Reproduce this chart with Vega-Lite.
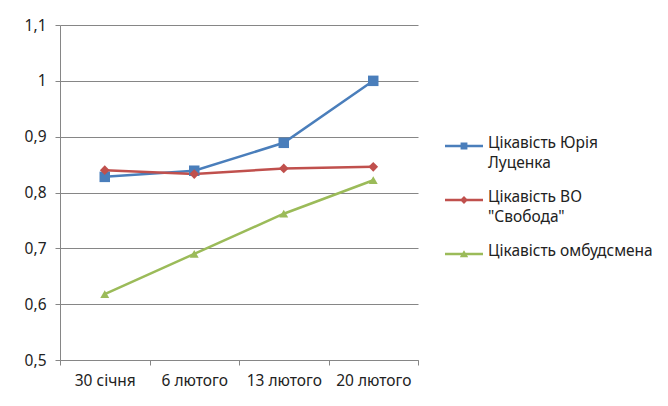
{
  "$schema": "https://vega.github.io/schema/vega-lite/v6.json",
  "width": 358,
  "height": 335,
  "autosize": "none",
  "padding": {"left": 60, "top": 25, "right": 250, "bottom": 46},
  "background": "white",
  "config": {
    "view": {"stroke": null},
    "font": "Noto Sans",
    "axis": {"labelFont": "Noto Sans", "labelFontSize": 15.5, "labelColor": "#222", "title": null}
  },
  "data": {
    "values": [
      {"date": "30 січня", "series": "Цікавість Юрія Луценка", "value": 0.828},
      {"date": "6 лютого", "series": "Цікавість Юрія Луценка", "value": 0.839},
      {"date": "13 лютого", "series": "Цікавість Юрія Луценка", "value": 0.889},
      {"date": "20 лютого", "series": "Цікавість Юрія Луценка", "value": 1.0},
      {"date": "30 січня", "series": "Цікавість ВО \"Свобода\"", "value": 0.84},
      {"date": "6 лютого", "series": "Цікавість ВО \"Свобода\"", "value": 0.833},
      {"date": "13 лютого", "series": "Цікавість ВО \"Свобода\"", "value": 0.843},
      {"date": "20 лютого", "series": "Цікавість ВО \"Свобода\"", "value": 0.846},
      {"date": "30 січня", "series": "Цікавість омбудсмена", "value": 0.618},
      {"date": "6 лютого", "series": "Цікавість омбудсмена", "value": 0.69},
      {"date": "13 лютого", "series": "Цікавість омбудсмена", "value": 0.762},
      {"date": "20 лютого", "series": "Цікавість омбудсмена", "value": 0.822}
    ]
  },
  "encoding": {
    "x": {
      "field": "date",
      "type": "nominal",
      "sort": ["30 січня", "6 лютого", "13 лютого", "20 лютого"],
      "bandPosition": 0.5,
      "scale": {"type": "band", "paddingInner": 0, "paddingOuter": 0},
      "axis": {
        "labelAngle": 0,
        "tickBand": "extent",
        "domainColor": "#868686",
        "tickColor": "#868686",
        "tickSize": 5,
        "labelPadding": 8,
        "grid": false
      }
    },
    "y": {
      "field": "value",
      "type": "quantitative",
      "scale": {"domain": [0.5, 1.1], "nice": false, "zero": false},
      "axis": {
        "values": [0.5, 0.6, 0.7, 0.8, 0.9, 1.0, 1.1],
        "labelExpr": "replace(format(datum.value, '.2~f'), '.', ',')",
        "grid": true,
        "gridColor": "#868686",
        "domainColor": "#868686",
        "tickColor": "#868686",
        "tickSize": 5,
        "labelPadding": 9
      }
    }
  },
  "resolve": {"scale": {"color": "independent"}, "legend": {"color": "independent"}},
  "layer": [
    {
      "mark": {"type": "line", "strokeWidth": 2.5},
      "encoding": {
        "color": {
          "field": "series",
          "type": "nominal",
          "sort": ["Цікавість Юрія Луценка", "Цікавість ВО \"Свобода\"", "Цікавість омбудсмена"],
          "scale": {
            "domain": ["Цікавість Юрія Луценка", "Цікавість ВО \"Свобода\"", "Цікавість омбудсмена"],
            "range": ["#4A7EBB", "#C0504D", "#9BBB59"]
          },
          "legend": {
            "title": null,
            "orient": "none",
            "legendX": 385,
            "legendY": 102,
            "symbolSize": 1444,
            "rowPadding": 9,
            "labelOffset": 5,
            "labelFont": "Noto Sans",
            "labelFontSize": 15.5,
            "labelColor": "#222",
            "labelLimit": 300,
            "labelBaseline": "top",
            "labelExpr": "indexof(datum.label, 'Юрія') >= 0 ? ['Цікавість Юрія', 'Луценка'] : indexof(datum.label, 'ВО') >= 0 ? ['Цікавість ВО', '\"Свобода\"'] : datum.label",
            "encode": {
              "symbols": {
                "update": {
                  "fill": {"signal": "indexof(datum.value, 'Юрія') >= 0 ? '#4A7EBB' : indexof(datum.value, 'ВО') >= 0 ? '#C0504D' : '#9BBB59'"},
                  "stroke": {"value": "transparent"},
                  "strokeWidth": {"value": 0},
                  "opacity": {"value": 1},
                  "fillOpacity": {"value": 1},
                  "shape": {"signal": "indexof(datum.value, 'Юрія') >= 0 ? 'M-1,-0.066H1V0.066H-1Z M-0.18,-0.18H0.18V0.18H-0.18Z' : indexof(datum.value, 'ВО') >= 0 ? 'M-1,-0.066H1V0.066H-1Z M0,-0.21L0.21,0L0,0.21L-0.21,0Z' : 'M-1,-0.066H1V0.066H-1Z M0,-0.2L0.22,0.17L-0.22,0.17Z'"}
                }
              },
              "labels": {
                "update": {"dy": {"value": -10}, "lineHeight": {"value": 20}}
              }
            }
          }
        }
      }
    },
    {
      "mark": {"type": "point", "filled": true, "opacity": 1},
      "encoding": {
        "color": {
          "field": "series",
          "type": "nominal",
          "scale": {
            "domain": ["Цікавість Юрія Луценка", "Цікавість ВО \"Свобода\"", "Цікавість омбудсмена"],
            "range": ["#4A7EBB", "#C0504D", "#9BBB59"]
          },
          "legend": null
        },
        "shape": {
          "field": "series",
          "scale": {
            "domain": ["Цікавість Юрія Луценка", "Цікавість ВО \"Свобода\"", "Цікавість омбудсмена"],
            "range": ["square", "diamond", "triangle-up"]
          },
          "legend": null
        },
        "size": {
          "field": "series",
          "type": "nominal",
          "scale": {
            "domain": ["Цікавість Юрія Луценка", "Цікавість ВО \"Свобода\"", "Цікавість омбудсмена"],
            "range": [110, 80, 90]
          },
          "legend": null
        }
      }
    }
  ]
}
